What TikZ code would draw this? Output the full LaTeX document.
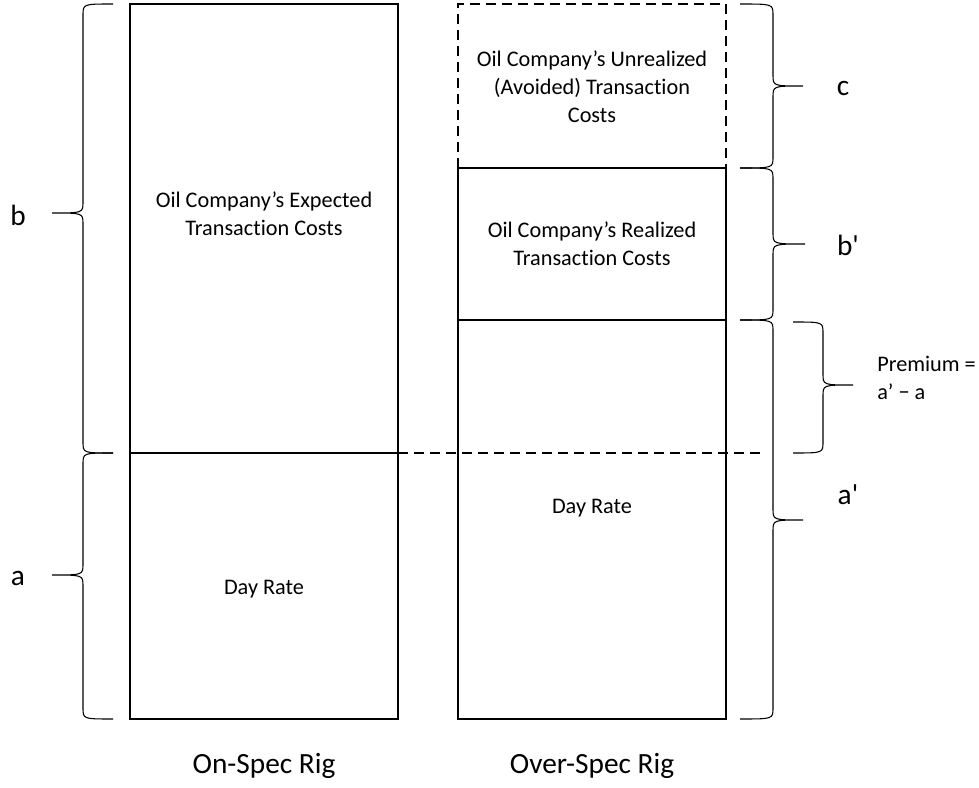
\documentclass[tikz,border=0pt]{standalone}
\usepackage{fontspec}
\newfontfamily\calfont{Carlito}[Ligatures={NoCommon}]
\newcommand{\mybrace}[6]{%
  \draw[bracestyle] (#1,#4) .. controls (#2,#4) .. (#2,#4+11) -- (#2,#5-11)
    .. controls (#2,#5) .. (#3,#5) .. controls (#2,#5) .. (#2,#5+11)
    -- (#2,#6-11) .. controls (#2,#6) .. (#1,#6);}
\begin{document}
\begin{tikzpicture}[x=0.75pt,y=-0.75pt,
  boxline/.style={line width=1.1pt},
  dashline/.style={line width=1.1pt,dash pattern=on 7.5pt off 4.5pt},
  bracestyle/.style={line width=0.8pt},
  smalltext/.style={font=\calfont\fontsize{16.7}{21}\selectfont,align=center,inner sep=0pt},
  bigtext/.style={font=\calfont\fontsize{22}{26}\selectfont,inner sep=0pt}]
\useasboundingbox (0,0) rectangle (979,788);
% left column
\coordinate (L1) at (130,4);
\coordinate (L2) at (398,719);
\draw[boxline] (L1) rectangle (L2);
\draw[boxline] (130,453) -- (398,453);
% right column
\draw[dashline] (458,168) -- (458,4) -- (726,4) -- (726,168);
\draw[boxline] (458,168) rectangle (726,719);
\draw[boxline] (458,320) -- (726,320);
\coordinate (D1) at (398,453);
\coordinate (D2) at (765,453);
\draw[dashline] (D1) -- (D2);
% texts
\node[smalltext] (exp) at (264,214) {Oil Company’s Expected\\Transaction Costs};
\node[smalltext] (dr1) at (264,589) {Day Rate};
\node[smalltext] (unr) at (592,87) {Oil Company’s Unrealized\\(Avoided) Transaction\\Costs};
\node[smalltext] (rea) at (592,244) {Oil Company’s Realized\\Transaction Costs};
\node[smalltext] (dr2) at (592,508) {Day Rate};
\node[bigtext] (on) at (264,766) {On-Spec Rig};
\node[bigtext] (over) at (592,766) {Over-Spec Rig};
% braces
\mybrace{113}{83}{52}{4}{213}{453}
\mybrace{113}{83}{52}{453}{575}{719}
\mybrace{740}{773}{803}{4}{86}{168}
\mybrace{740}{773}{805}{168}{244}{320}
\mybrace{740}{773}{803}{320}{520}{719}
\mybrace{793}{823}{853}{322}{385}{453}
% labels
\node[bigtext] (lb) at (18,215) {b};
\node[bigtext] (la) at (18,578) {a};
\node[bigtext] (lc) at (843,88) {c};
\node[bigtext] (lbp) at (848,245) {b'};
\node[bigtext] (lap) at (848,495) {a'};
\node[smalltext,align=left,anchor=west] (prem) at (877,378) {Premium =\\a’ − a};
\end{tikzpicture}
\end{document}
